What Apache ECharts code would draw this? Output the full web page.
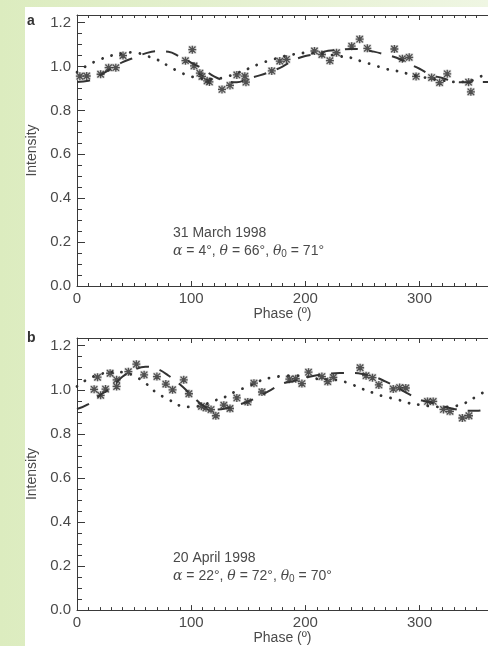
<!DOCTYPE html>
<html>
<head>
<meta charset="utf-8">
<script src="https://cdn.jsdelivr.net/npm/echarts@6/dist/echarts.min.js"></script>
<style>
  html, body { margin: 0; padding: 0; }
  #chart { width: 488px; height: 646px; }
</style>
</head>
<body>
<div id="chart"></div>
<script>
// model curves sampled every 10 degrees of phase
const modelPhase = [0,10,20,30,40,50,60,70,80,90,100,110,120,130,140,150,160,170,180,
  190,200,210,220,230,240,250,260,270,280,290,300,310,320,330,340,350,360];

// panel a, 31 March 1998
const dashA = [0.930,0.935,0.960,0.990,1.020,1.040,1.060,1.070,1.068,1.045,1.018,0.990,0.955,0.935,0.928,0.945,
  0.960,0.978,1.000,1.030,1.048,1.058,1.072,1.076,1.080,1.078,1.068,1.055,1.040,1.015,0.990,0.962,0.948,0.932,0.928,0.930,0.930];
const dotA = [0.975,1.008,1.032,1.050,1.060,1.065,1.050,1.032,1.003,0.975,0.955,0.945,0.943,0.952,0.970,0.990,
  1.013,1.030,1.045,1.056,1.062,1.060,1.055,1.047,1.040,1.022,1.007,0.990,0.980,0.967,0.955,0.945,0.937,0.930,0.930,0.945,0.975];
const obsPhaseA = [2.5,8.5,20.7,27.7,34,40.3,95,101,102.5,107.6,109.5,114,116,127,134,140,147,148,
  170.6,177.6,183.5,208,214.5,221.5,227.3,240.6,247.6,254.3,278,285,291,297,310.6,317.6,324.3,343,345];
const obsIntA = [0.956,0.957,0.965,0.995,0.995,1.050,1.027,1.077,1.003,0.970,0.955,0.935,0.930,0.896,0.914,0.962,0.956,0.929,
  0.980,1.025,1.033,1.071,1.055,1.027,1.063,1.093,1.125,1.083,1.080,1.036,1.042,0.955,0.950,0.927,0.967,0.929,0.885];

// panel b, 20 April 1998
const dashB = [0.913,0.935,0.975,1.010,1.060,1.090,1.105,1.095,1.065,1.025,0.978,0.930,0.910,0.915,0.930,0.947,
  0.972,1.000,1.028,1.040,1.055,1.066,1.073,1.076,1.076,1.072,1.060,1.038,1.012,0.982,0.955,0.942,0.925,0.913,0.905,0.905,0.913];
const dotB = [1.015,1.050,1.070,1.080,1.080,1.063,1.030,0.985,0.957,0.928,0.922,0.930,0.950,0.968,0.995,1.015,
  1.040,1.055,1.062,1.065,1.060,1.050,1.047,1.042,1.026,1.004,0.985,0.968,0.957,0.940,0.932,0.925,0.922,0.925,0.940,0.970,1.000];
const obsPhaseB = [15,18,20.7,25,29,34.7,34.7,45,52,58.8,70,77.8,83.7,93.5,98,109,113,117.4,121.6,128.6,134,140,149.6,155,162,
  186,191.6,197,202.8,214.5,219.6,224.5,248,253.2,258.8,264.4,277,282.6,288,307,312,321,326.7,337.5,343.3];
const obsIntB = [1.002,1.057,0.975,1.003,1.075,1.015,1.045,1.082,1.116,1.068,1.060,1.026,1.000,1.045,0.982,0.925,0.918,0.910,0.882,0.930,0.915,0.963,0.945,1.030,0.990,
  1.048,1.050,1.028,1.080,1.060,1.037,1.056,1.100,1.064,1.055,1.022,1.004,1.010,1.008,0.947,0.947,0.911,0.902,0.872,0.882];

const xTicks = [0, 100, 200, 300];
const yTicks = [0.0, 0.2, 0.4, 0.6, 0.8, 1.0, 1.2];
const panelLabels = ['a', 'b'];
const dateLabels = ['31 March 1998', '20 April 1998'];
const angleLabels = [
  '{g|α} = 4°, {g|θ} = 66°, {g|θ}{s|0} = 71°',
  '{g|α} = 22°, {g|θ} = 72°, {g|θ}{s|0} = 70°'
];

const FONT = 'Liberation Sans';
const INK = '#3a3a3a';
const TXT = '#4a4a4a';

function pairs(xs, ys) {
  return xs.map((x, i) => [x, ys[i]]);
}

const grids = [
  { left: 77, top: 15, width: 427, height: 271 },
  { left: 77, top: 338, width: 427, height: 274 }
];

const xAxes = [];
const yAxes = [];
const series = [];

for (let p = 0; p < 2; p++) {
  const base = { gridIndex: p, type: 'value', min: 0, max: 360, splitLine: { show: false } };
  // bottom major axis with labels
  xAxes.push(Object.assign({}, base, {
    position: 'bottom', interval: 100,
    name: 'Phase (º)', nameLocation: 'middle', nameGap: 19,
    nameTextStyle: { fontFamily: FONT, fontSize: 14, color: TXT },
    axisLine: { show: true, lineStyle: { color: INK, width: 1 } },
    axisTick: { show: true, inside: true, length: 5, lineStyle: { color: INK } },
    axisLabel: {
      fontFamily: FONT, fontSize: 15, color: TXT, margin: 5, showMaxLabel: false,
      formatter: v => (xTicks.indexOf(v) >= 0 ? String(v) : '')
    }
  }));
  // bottom minor ticks
  xAxes.push(Object.assign({}, base, {
    position: 'bottom', interval: 10,
    axisLine: { show: false },
    axisTick: { show: true, inside: true, length: 3, lineStyle: { color: INK } },
    axisLabel: { show: false }
  }));
  // top frame, minor and major ticks
  xAxes.push(Object.assign({}, base, {
    position: 'top', interval: 10,
    axisLine: { show: true, lineStyle: { color: INK, width: 1 } },
    axisTick: { show: true, inside: true, length: 3, lineStyle: { color: INK } },
    axisLabel: { show: false }
  }));
  xAxes.push(Object.assign({}, base, {
    position: 'top', interval: 100,
    axisLine: { show: false },
    axisTick: { show: true, inside: true, length: 5, lineStyle: { color: INK } },
    axisLabel: { show: false }
  }));

  const ybase = { gridIndex: p, type: 'value', min: 0, max: 1.235, position: 'left', splitLine: { show: false } };
  yAxes.push(Object.assign({}, ybase, {
    interval: 0.2,
    name: 'Intensity', nameLocation: 'middle', nameGap: 36,
    nameTextStyle: { fontFamily: FONT, fontSize: 14, color: TXT },
    axisLine: { show: true, lineStyle: { color: INK, width: 1 } },
    axisTick: { show: true, inside: true, length: 8, lineStyle: { color: INK } },
    axisLabel: {
      fontFamily: FONT, fontSize: 15, color: TXT, margin: 6, showMaxLabel: false,
      formatter: v => {
        const hit = yTicks.find(t => Math.abs(t - v) < 1e-6);
        return hit === undefined ? '' : hit.toFixed(1);
      }
    }
  }));
  yAxes.push(Object.assign({}, ybase, {
    interval: 0.05,
    axisLine: { show: false },
    axisTick: { show: true, inside: true, length: 5, lineStyle: { color: INK } },
    axisLabel: { show: false }
  }));

  const xi = p * 4, yi = p * 2;
  const dash = p === 0 ? dashA : dashB;
  const dot = p === 0 ? dotA : dotB;
  const obs = p === 0 ? pairs(obsPhaseA, obsIntA) : pairs(obsPhaseB, obsIntB);

  series.push({
    type: 'line', xAxisIndex: xi, yAxisIndex: yi, smooth: 0.4, symbol: 'none', silent: true,
    data: pairs(modelPhase, dot),
    lineStyle: { color: '#333', width: 2.8, type: [0.1, 9.5], cap: 'round' }
  });
  series.push({
    type: 'line', xAxisIndex: xi, yAxisIndex: yi, smooth: 0.4, symbol: 'none', silent: true,
    data: pairs(modelPhase, dash),
    lineStyle: { color: '#333', width: 2, type: [13, 11] }
  });
  // grey halo behind each asterisk
  series.push({
    type: 'scatter', xAxisIndex: xi, yAxisIndex: yi, silent: true,
    symbol: 'rect', symbolSize: 8,
    itemStyle: { color: '#cfcfcf', opacity: 0.9 },
    data: obs
  });
  series.push({
    type: 'scatter', xAxisIndex: xi, yAxisIndex: yi, silent: true,
    symbol: 'path://M5,0L5,10M0,5L10,5M1,1L9,9M1,9L9,1',
    symbolSize: 8,
    itemStyle: { color: 'none', borderColor: '#2e2e2e', borderWidth: 1.3 },
    data: obs
  });
}

const graphics = [
  { type: 'rect', left: 0, top: 0, z: -10, shape: { width: 488, height: 646 },
    style: { fill: new echarts.graphic.LinearGradient(0, 0, 1, 0, [
      { offset: 0, color: '#dcecbf' }, { offset: 1, color: '#eff6e3' }]) } },
  { type: 'rect', left: 25, top: 7, z: -9, shape: { width: 463, height: 639 }, style: { fill: '#ffffff' } }
];
const textTops = [[14, 226, 244], [331, 551, 569]];
for (let p = 0; p < 2; p++) {
  graphics.push({ type: 'text', left: 27, top: textTops[p][0],
    style: { text: panelLabels[p], font: 'bold 14px ' + FONT, fill: '#333' } });
  graphics.push({ type: 'text', left: 173, top: textTops[p][1],
    style: { text: dateLabels[p], font: '14px ' + FONT, fill: TXT } });
  graphics.push({ type: 'text', left: 173, top: textTops[p][2],
    style: {
      text: angleLabels[p], font: '14px ' + FONT, fill: TXT,
      rich: {
        g: { fontFamily: 'DejaVu Serif', fontStyle: 'italic', fontSize: 14, fill: TXT },
        s: { fontSize: 10, padding: [7, 0, 0, 0], fill: TXT }
      }
    } });
}

const chart = echarts.init(document.getElementById('chart'));
chart.setOption({
  animation: false,
  grid: grids,
  xAxis: xAxes,
  yAxis: yAxes,
  series: series,
  graphic: graphics
});
</script>
</body>
</html>
